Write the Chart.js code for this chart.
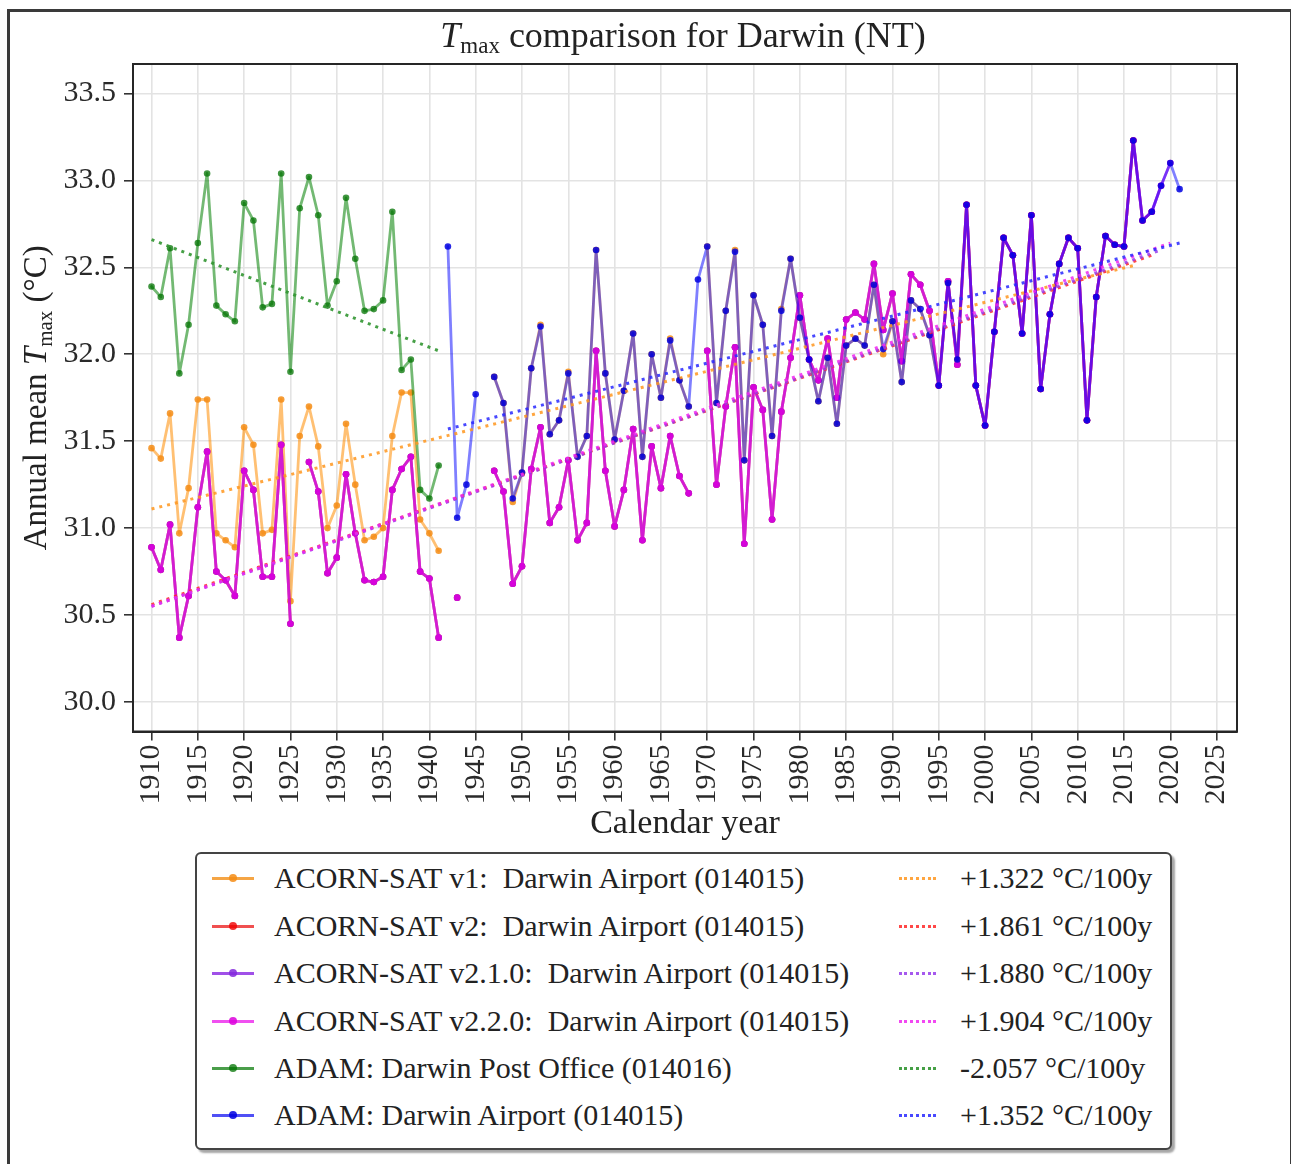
<!DOCTYPE html>
<html>
<head>
<meta charset="utf-8">
<title>Tmax comparison for Darwin (NT)</title>
<script src="https://cdn.jsdelivr.net/npm/chart.js@4.4.1/dist/chart.umd.min.js"></script>
<style>
    body { margin: 0; background: #fff; }
    #page { position: relative; width: 1291px; height: 1164px; overflow: hidden; background: #fff; }
    #frame { position: absolute; left: 7px; top: 9px; width: 1280px; height: 1200px; border: 3px solid #3a3a3a; }
    #chartWrap { position: absolute; left: 0; top: 0; width: 1291px; height: 850px; }
    #legend {
        position: absolute; left: 195px; top: 852px; width: 973px; height: 294px;
        border: 2px solid #444; border-radius: 6px; background: #fff;
        box-shadow: 3px 3px 2px rgba(0, 0, 0, 0.35);
        font-family: 'Liberation Serif', 'Times New Roman', serif; font-size: 30px; color: #222;
    }
    .row { position: absolute; left: 0; width: 100%; height: 0; }
    .txt { position: absolute; top: -17px; line-height: 34px; white-space: pre; }
    .solid { position: absolute; left: 15px; top: -1.5px; width: 42px; border-top: 3px solid; }
    .solid i { position: absolute; left: 17px; top: -5.5px; width: 8px; height: 8px; border-radius: 50%; }
    .dotted { position: absolute; left: 702px; top: -1.5px; width: 37px; border-top: 3px dotted; }
</style>
</head>
<body>
<div id="page">
    <div id="frame"></div>
    <div id="chartWrap"><canvas id="tmaxChart" width="1291" height="850"></canvas></div>
    <div id="legend"></div>
</div>
<script>
// tick labels
const xTicks = [1910, 1915, 1920, 1925, 1930, 1935, 1940, 1945, 1950, 1955, 1960, 1965, 1970,
    1975, 1980, 1985, 1990, 1995, 2000, 2005, 2010, 2015, 2020, 2025];
const yTicks = [30.0, 30.5, 31.0, 31.5, 32.0, 32.5, 33.0, 33.5];

// series names and trend labels
const seriesNames = [
    'ACORN-SAT v1:  Darwin Airport (014015)',
    'ACORN-SAT v2:  Darwin Airport (014015)',
    'ACORN-SAT v2.1.0:  Darwin Airport (014015)',
    'ACORN-SAT v2.2.0:  Darwin Airport (014015)',
    'ADAM: Darwin Post Office (014016)',
    'ADAM: Darwin Airport (014015)'
];
const trendLabels = ['+1.322 °C/100y', '+1.861 °C/100y', '+1.880 °C/100y', '+1.904 °C/100y', '-2.057 °C/100y', '+1.352 °C/100y'];

// annual values, each list starts at its own first year
const acornV1Start = 1910;
const acornV1 = [
    31.46, 31.40, 31.66, 30.97, 31.23, 31.74, 31.74, 30.97, 30.93, 30.89,
    31.58, 31.48, 30.97, 30.99, 31.74, 30.58, 31.53, 31.70, 31.47, 31.00,
    31.13, 31.60, 31.25, 30.93, 30.95, 31.00, 31.53, 31.78, 31.78, 31.05,
    30.97, 30.87, null, null, null, null, null, 31.87, 31.72, 31.15,
    31.32, 31.92, 32.17, 31.54, 31.62, 31.90, 31.41, 31.53, 32.60, 31.89,
    31.51, 31.79, 32.12, 31.41, 32.00, 31.75, 32.09, 31.85, 31.70, null,
    32.62, 31.72, 32.25, 32.60, 31.39, 32.34, 32.17, 31.53, 32.26, 32.55,
    32.21, 31.97, 31.73, 31.98, 31.60, 32.05, 32.09, 32.05, 32.40, 32.00,
    32.19, 31.84, 32.31, 32.26, 32.11, 31.82, 32.41, 31.97, 32.86, 31.82,
    31.59, 32.13, 32.67, 32.57, 32.12, 32.80, 31.80, 32.23, 32.52, 32.67,
    32.61, 31.62, 32.33, 32.68, 32.63, 32.62, 33.23
];
const acornV2Start = 1910;
const acornV2 = [
    30.89, 30.76, 31.02, 30.37, 30.61, 31.12, 31.44, 30.75, 30.70, 30.61,
    31.33, 31.22, 30.72, 30.72, 31.48, 30.45, null, 31.38, 31.21, 30.74,
    30.83, 31.31, 30.97, 30.70, 30.69, 30.72, 31.22, 31.34, 31.41, 30.75,
    30.71, 30.37, null, 30.60, null, null, null, 31.33, 31.21, 30.68,
    30.78, 31.34, 31.58, 31.03, 31.12, 31.39, 30.93, 31.03, 32.02, 31.33,
    31.01, 31.22, 31.57, 30.93, 31.47, 31.23, 31.53, 31.30, 31.20, null,
    32.02, 31.25, 31.70, 32.04, 30.91, 31.81, 31.68, 31.05, 31.67, 31.98,
    32.34, 31.97, 31.85, 32.09, 31.75, 32.20, 32.24, 32.20, 32.52, 32.14,
    32.35, 31.96, 32.46, 32.40, 32.25, 31.82, 32.42, 31.94, 32.86, 31.82,
    31.59, 32.13, 32.67, 32.57, 32.12, 32.80, 31.80, 32.23, 32.52, 32.67,
    32.61, 31.62, 32.33, 32.68, 32.63, 32.62, 33.23, 32.77, 32.82
];
const acornV210Start = 1910;
const acornV210 = [
    30.89, 30.76, 31.02, 30.37, 30.61, 31.12, 31.44, 30.75, 30.70, 30.61,
    31.33, 31.22, 30.72, 30.72, 31.48, 30.45, null, 31.38, 31.21, 30.74,
    30.83, 31.31, 30.97, 30.70, 30.69, 30.72, 31.22, 31.34, 31.41, 30.75,
    30.71, 30.37, null, 30.60, null, null, null, 31.33, 31.21, 30.68,
    30.78, 31.34, 31.58, 31.03, 31.12, 31.39, 30.93, 31.03, 32.02, 31.33,
    31.01, 31.22, 31.57, 30.93, 31.47, 31.23, 31.53, 31.30, 31.20, null,
    32.02, 31.25, 31.70, 32.04, 30.91, 31.81, 31.68, 31.05, 31.67, 31.98,
    32.34, 31.97, 31.85, 32.09, 31.75, 32.20, 32.24, 32.20, 32.52, 32.14,
    32.35, 31.96, 32.46, 32.40, 32.25, 31.82, 32.42, 31.94, 32.86, 31.82,
    31.59, 32.13, 32.67, 32.57, 32.12, 32.80, 31.80, 32.23, 32.52, 32.67,
    32.61, 31.62, 32.33, 32.68, 32.63, 32.62, 33.23, 32.77, 32.82, 32.97
];
const acornV220Start = 1910;
const acornV220 = [
    30.89, 30.76, 31.02, 30.37, 30.61, 31.12, 31.44, 30.75, 30.70, 30.61,
    31.33, 31.22, 30.72, 30.72, 31.48, 30.45, null, 31.38, 31.21, 30.74,
    30.83, 31.31, 30.97, 30.70, 30.69, 30.72, 31.22, 31.34, 31.41, 30.75,
    30.71, 30.37, null, 30.60, null, null, null, 31.33, 31.21, 30.68,
    30.78, 31.34, 31.58, 31.03, 31.12, 31.39, 30.93, 31.03, 32.02, 31.33,
    31.01, 31.22, 31.57, 30.93, 31.47, 31.23, 31.53, 31.30, 31.20, null,
    32.02, 31.25, 31.70, 32.04, 30.91, 31.81, 31.68, 31.05, 31.67, 31.98,
    32.34, 31.97, 31.85, 32.09, 31.75, 32.20, 32.24, 32.20, 32.52, 32.14,
    32.35, 31.96, 32.46, 32.40, 32.25, 31.82, 32.42, 31.94, 32.86, 31.82,
    31.59, 32.13, 32.67, 32.57, 32.12, 32.80, 31.80, 32.23, 32.52, 32.67,
    32.61, 31.62, 32.33, 32.68, 32.63, 32.62, 33.23, 32.77, 32.82, 32.97,
    33.10
];
const adamPostOfficeStart = 1910;
const adamPostOffice = [
    32.39, 32.33, 32.61, 31.89, 32.17, 32.64, 33.04, 32.28, 32.23, 32.19,
    32.87, 32.77, 32.27, 32.29, 33.04, 31.90, 32.84, 33.02, 32.80, 32.28,
    32.42, 32.90, 32.55, 32.25, 32.26, 32.31, 32.82, 31.91, 31.97, 31.22,
    31.17, 31.36
];
const adamAirportStart = 1942;
const adamAirport = [
    32.62, 31.06, 31.25, 31.77, null, 31.87, 31.72, 31.17,
    31.32, 31.92, 32.16, 31.54, 31.62, 31.89, 31.41, 31.53, 32.60, 31.89,
    31.51, 31.79, 32.12, 31.41, 32.00, 31.75, 32.08, 31.85, 31.70, 32.43,
    32.62, 31.72, 32.25, 32.59, 31.39, 32.34, 32.17, 31.53, 32.25, 32.55,
    32.21, 31.97, 31.73, 31.98, 31.60, 32.05, 32.09, 32.05, 32.40, 32.03,
    32.19, 31.84, 32.31, 32.26, 32.11, 31.82, 32.41, 31.97, 32.86, 31.82,
    31.59, 32.13, 32.67, 32.57, 32.12, 32.80, 31.80, 32.23, 32.52, 32.67,
    32.61, 31.62, 32.33, 32.68, 32.63, 32.62, 33.23, 32.77, 32.82, 32.97,
    33.10, 32.95
];

// linear trend lines: first and last year, value at each end
const trendYears = [[1910, 2016], [1910, 2018], [1910, 2019], [1910, 2020], [1910, 1941], [1942, 2021]];
const trendValues = [[31.11, 32.51], [30.56, 32.57], [30.55, 32.60], [30.55, 32.64], [32.66, 32.02], [31.57, 32.64]];

const font = "'Liberation Serif', 'Times New Roman', serif";

const styles = [
    { line: 'rgba(255, 140, 0, 0.55)', point: 'rgba(245, 140, 20, 0.85)', trend: 'rgba(255, 150, 30, 0.85)', key: '#f5a545' },
    { line: 'rgba(255, 0, 0, 0.55)', point: 'rgba(240, 0, 0, 0.8)', trend: 'rgba(255, 40, 40, 0.85)', key: '#f05050' },
    { line: 'rgba(138, 43, 226, 0.6)', point: 'rgba(130, 40, 220, 0.85)', trend: 'rgba(150, 60, 235, 0.85)', key: '#a050e8' },
    { line: 'rgba(230, 0, 230, 0.6)', point: 'rgba(220, 0, 220, 0.85)', trend: 'rgba(240, 40, 240, 0.85)', key: '#f050f0' },
    { line: 'rgba(0, 128, 0, 0.55)', point: 'rgba(0, 115, 0, 0.75)', trend: 'rgba(50, 150, 50, 0.9)', key: '#4a9e4a' },
    { line: 'rgba(0, 0, 255, 0.5)', point: 'rgba(0, 0, 225, 0.85)', trend: 'rgba(40, 40, 255, 0.85)', key: '#5050f5' }
];

function toPoints(start, values) {
    return values.map((v, i) => ({ x: start + i, y: v }));
}

const seriesData = [
    toPoints(acornV1Start, acornV1),
    toPoints(acornV2Start, acornV2),
    toPoints(acornV210Start, acornV210),
    toPoints(acornV220Start, acornV220),
    toPoints(adamPostOfficeStart, adamPostOffice),
    toPoints(adamAirportStart, adamAirport)
];

const datasets = [];
seriesData.forEach((pts, i) => {
    datasets.push({
        label: seriesNames[i],
        data: pts,
        borderColor: styles[i].line,
        backgroundColor: styles[i].point,
        pointBackgroundColor: styles[i].point,
        pointBorderWidth: 0,
        pointRadius: 3.3,
        borderWidth: 2.8,
        borderJoinStyle: 'round',
        borderCapStyle: 'round',
        tension: 0,
        spanGaps: false,
        order: 12 - i
    });
});
trendYears.forEach((yrs, i) => {
    datasets.push({
        label: trendLabels[i],
        data: [{ x: yrs[0], y: trendValues[i][0] }, { x: yrs[1], y: trendValues[i][1] }],
        borderColor: styles[i].trend,
        borderWidth: 3,
        borderDash: [3, 5],
        borderCapStyle: 'butt',
        pointRadius: 0,
        order: 6 - i
    });
});

// draws T_max with an italic T and a lowered "max"
function drawRich(ctx, pieces, cx, baseY) {
    let total = 0;
    pieces.forEach(p => { ctx.font = p.font; total += ctx.measureText(p.text).width; });
    let x = cx - total / 2;
    pieces.forEach(p => {
        ctx.font = p.font;
        ctx.fillText(p.text, x, baseY + (p.dy || 0));
        x += ctx.measureText(p.text).width;
    });
}

const decorPlugin = {
    id: 'decor',
    afterDraw(chart) {
        const { ctx, chartArea } = chart;
        ctx.save();
        ctx.strokeStyle = '#262626';
        ctx.lineWidth = 2;
        ctx.strokeRect(chartArea.left, chartArea.top, chartArea.right - chartArea.left, chartArea.bottom - chartArea.top);

        ctx.fillStyle = '#222';
        ctx.textAlign = 'left';
        ctx.textBaseline = 'alphabetic';
        const midX = (chartArea.left + chartArea.right) / 2;
        drawRich(ctx, [
            { text: 'T', font: 'italic 36px ' + font },
            { text: 'max', font: '23px ' + font, dy: 6 },
            { text: ' comparison for Darwin (NT)', font: '36px ' + font }
        ], midX - 2, 47);

        drawRich(ctx, [{ text: 'Calendar year', font: '34px ' + font }], midX, 833);

        ctx.translate(36, (chartArea.top + chartArea.bottom) / 2);
        ctx.rotate(-Math.PI / 2);
        drawRich(ctx, [
            { text: 'Annual mean ', font: '33px ' + font },
            { text: 'T', font: 'italic 33px ' + font },
            { text: 'max', font: '21px ' + font, dy: 6 },
            { text: ' (°C)', font: '33px ' + font }
        ], 0, 10);
        ctx.restore();
    }
};

document.addEventListener('DOMContentLoaded', () => {
    const ctx = document.getElementById('tmaxChart').getContext('2d');

    new Chart(ctx, {
        type: 'line',
        data: { datasets: datasets },
        options: {
            responsive: false,
            animation: false,
            events: [],
            layout: { padding: { top: 64, right: 54, left: 0, bottom: 0 } },
            plugins: {
                legend: { display: false },
                tooltip: { enabled: false },
                title: { display: false }
            },
            scales: {
                x: {
                    type: 'linear',
                    min: 1908,
                    max: 2027.2,
                    afterBuildTicks: (scale) => { scale.ticks = xTicks.map(v => ({ value: v })); },
                    afterFit: (scale) => { scale.height = 118.5; },
                    ticks: {
                        autoSkip: false,
                        minRotation: 90,
                        maxRotation: 90,
                        padding: 4,
                        color: '#2a2a2a',
                        font: { family: font, size: 30 },
                        callback: (v) => String(v)
                    },
                    grid: { color: '#e3e3e3', lineWidth: 1.6, tickColor: '#333', tickLength: 9, tickWidth: 1.6 },
                    border: { display: true, color: '#262626', width: 2 }
                },
                y: {
                    min: 29.83,
                    max: 33.67,
                    afterBuildTicks: (scale) => { scale.ticks = yTicks.map(v => ({ value: v })); },
                    afterFit: (scale) => { scale.width = 133; },
                    ticks: {
                        padding: 8,
                        color: '#2a2a2a',
                        font: { family: font, size: 30 },
                        callback: (v) => v.toFixed(1)
                    },
                    grid: { color: '#e3e3e3', lineWidth: 1.6, tickColor: '#333', tickLength: 9, tickWidth: 1.6 },
                    border: { display: true, color: '#262626', width: 2 }
                }
            }
        },
        plugins: [decorPlugin]
    });

    // two-column legend: series on the left, trend on the right
    const legend = document.getElementById('legend');
    const rowTops = [26, 74, 121, 169, 216, 263];
    seriesNames.forEach((name, i) => {
        const row = document.createElement('div');
        row.className = 'row';
        row.style.top = (rowTops[i] - 2) + 'px';
        row.innerHTML =
            '<span class="solid" style="border-color:' + styles[i].key + '"><i style="background:' + styles[i].point + '"></i></span>' +
            '<span class="txt" style="left:77px">' + name + '</span>' +
            '<span class="dotted" style="border-color:' + styles[i].trend + '"></span>' +
            '<span class="txt" style="left:763px">' + trendLabels[i] + '</span>';
        legend.appendChild(row);
    });
});
</script>
</body>
</html>
